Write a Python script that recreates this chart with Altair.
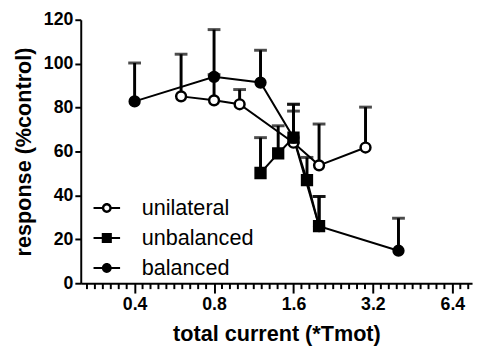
import altair as alt
import pandas as pd

series_names = ["unilateral", "unbalanced", "balanced"]

uni_x = [0.6, 0.8, 1.0, 1.6, 2.0, 3.0]
uni_y = [85.1, 83.3, 81.5, 64.0, 53.7, 61.8]
uni_up = [104.3, 95.0, 88.2, 78.4, 72.5, 80.2]

unb_x = [1.2, 1.4, 1.6, 1.8, 2.0]
unb_y = [50.2, 59.1, 66.3, 47.0, 26.0]
unb_up = [66.3, 71.7, 81.5, 57.3, 39.5]

bal_x = [0.4, 0.8, 1.2, 1.6, 2.0, 4.0]
bal_y = [82.8, 94.0, 91.4, 66.3, 26.0, 14.8]
bal_up = [100.3, 115.5, 106.1, 81.5, 39.5, 29.6]

x_ticks = [0.4, 0.8, 1.6, 3.2, 6.4]
y_ticks = [0, 20, 40, 60, 80, 100, 120]
# minor ticks: 10 equal log subdivisions per doubling
x_minor = [0.4 * 2 ** (k / 10) for k in range(-6, 45) if k % 10 != 0]
x_minor = [v for v in x_minor if 0.25 <= v <= 7.6]

rows = []
for name, xs, ys, ups in [("unilateral", uni_x, uni_y, uni_up),
                          ("unbalanced", unb_x, unb_y, unb_up),
                          ("balanced", bal_x, bal_y, bal_up)]:
    for a, b, c in zip(xs, ys, ups):
        rows.append({"series": name, "x": a, "y": b, "up": c})
df = pd.DataFrame(rows)
minor_df = pd.DataFrame({"x": x_minor})

FONT = "Liberation Sans"
xscale = alt.Scale(type="log", base=2, domain=[0.25, 7.6], nice=False)
yscale = alt.Scale(domain=[0, 120], nice=False)

xaxis = alt.Axis(values=x_ticks, format=".1f", title="total current (*Tmot)",
                 tickSize=10, labelPadding=3, titlePadding=10)
yaxis = alt.Axis(values=y_ticks, title="response (%control)", tickSize=6,
                 labelPadding=2, titlePadding=8)

X = alt.X("x:Q", scale=xscale, axis=xaxis)
Y = alt.Y("y:Q", scale=yscale, axis=yaxis)

base = alt.Chart(df)

lines = base.mark_line(color="black", strokeWidth=2).encode(
    x=X, y=Y, detail="series:N", order="x:Q")

bars = base.mark_rule(color="black", strokeWidth=3).encode(
    x="x:Q", y="y:Q", y2="up:Q")

caps = base.mark_tick(color="black", orient="horizontal", size=13, thickness=3).encode(
    x="x:Q", y=alt.Y("up:Q"))

points = base.mark_point(filled=True, stroke="black", strokeWidth=2.5, opacity=1, size=100).encode(
    x="x:Q", y="y:Q",
    shape=alt.Shape("series:N", scale=alt.Scale(domain=series_names, range=["circle", "square", "circle"]), legend=None),
    fill=alt.Fill("series:N", scale=alt.Scale(domain=series_names, range=["white", "black", "black"]), legend=None),
)

# legend glyphs (line + marker) as filled outlines in the unit box
BAR_L = "M-1,-0.08H-0.3V0.08H-1Z"
BAR_R = "M0.3,-0.08H1V0.08H0.3Z"
BAR = "M-1,-0.08H1V0.08H-1Z"
leg_paths = [
    BAR_L + BAR_R
    + "M-0.37,0A0.37,0.37 0 1,1 0.37,0A0.37,0.37 0 1,1 -0.37,0Z"
    + "M-0.19,0A0.19,0.19 0 1,0 0.19,0A0.19,0.19 0 1,0 -0.19,0Z",
    BAR + "M-0.38,-0.38H0.38V0.38H-0.38Z",
    BAR + "M-0.37,0A0.37,0.37 0 1,1 0.37,0A0.37,0.37 0 1,1 -0.37,0Z",
]
leg = alt.Legend(title=None, orient="none", legendX=13, legendY=178,
                 symbolSize=729, symbolStrokeWidth=0, symbolFillColor="black",
                 symbolOpacity=1, labelFont=FONT, labelFontSize=22, labelColor="black",
                 labelOffset=22, rowPadding=5.5, padding=0)

# legend-only layer: no rows drawn, its shape scale carries the legend
legend_layer = base.transform_filter("false").mark_point(
    filled=True, color="black", strokeWidth=0, opacity=1).encode(
    x="x:Q", y="y:Q",
    shape=alt.Shape("series:N", scale=alt.Scale(domain=series_names, range=leg_paths), legend=leg),
)

minor = alt.Chart(minor_df).mark_rule(color="black", strokeWidth=2).encode(
    x=alt.X("x:Q"), y=alt.value(268), y2=alt.value(274))

chart = alt.layer(lines, bars, caps, minor, legend_layer, points).resolve_scale(
    shape="independent"
).properties(
    width=398, height=268, autosize="none",
    padding={"left": 74, "top": 9, "right": 3, "bottom": 66},
).configure_view(stroke=None).configure_axis(
    grid=False, domainColor="black", domainWidth=2, tickColor="black", tickWidth=2,
    labelFont=FONT, labelFontSize=18, labelFontWeight="bold", labelColor="black",
    titleFont=FONT, titleFontSize=22, titleFontWeight="bold", titleColor="black",
)

chart.save("out.html", embed_options={"renderer": "svg", "actions": False})
